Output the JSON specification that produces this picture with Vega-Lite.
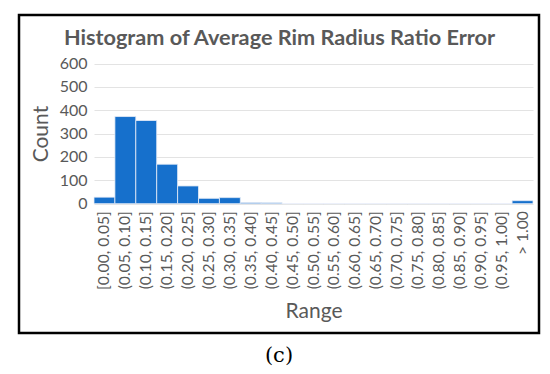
{
  "$schema": "https://vega.github.io/schema/vega-lite/v6.json",
  "padding": {"left": 17, "top": 13, "right": 5, "bottom": 5},
  "background": "white",
  "title": {"text": "(c)", "orient": "bottom", "anchor": "middle", "font": "DejaVu Serif", "fontSize": 21, "fontWeight": "normal", "color": "#000000", "offset": 11, "frame": "group"},
  "config": {
    "view": {"stroke": "#000000", "strokeWidth": 2.5},
    "font": "Lato"
  },
  "datasets": {
    "hist": [
      {"range": "[0.00, 0.05]", "count": 28},
      {"range": "(0.05, 0.10]", "count": 373},
      {"range": "(0.10, 0.15]", "count": 356},
      {"range": "(0.15, 0.20]", "count": 169},
      {"range": "(0.20, 0.25]", "count": 76},
      {"range": "(0.25, 0.30]", "count": 23},
      {"range": "(0.30, 0.35]", "count": 26},
      {"range": "(0.35, 0.40]", "count": 5},
      {"range": "(0.40, 0.45]", "count": 4},
      {"range": "(0.45, 0.50]", "count": 0},
      {"range": "(0.50, 0.55]", "count": 0},
      {"range": "(0.55, 0.60]", "count": 0},
      {"range": "(0.60, 0.65]", "count": 0},
      {"range": "(0.65, 0.70]", "count": 0},
      {"range": "(0.70, 0.75]", "count": 0},
      {"range": "(0.75, 0.80]", "count": 0},
      {"range": "(0.80, 0.85]", "count": 0},
      {"range": "(0.85, 0.90]", "count": 0},
      {"range": "(0.90, 0.95]", "count": 0},
      {"range": "(0.95, 1.00]", "count": 0},
      {"range": "> 1.00", "count": 13}
    ]
  },
  "vconcat": [
    {
      "width": 520,
      "height": 318,
      "data": {"name": "hist"},
      "resolve": {"axis": {"x": "independent"}},
      "layer": [
        {
          "mark": {"type": "bar", "color": "#1670cc", "stroke": "#e8eef8", "strokeWidth": 0.8},
          "encoding": {
            "x": {
              "field": "range", "type": "nominal", "sort": null,
              "scale": {"range": [75, 514], "paddingInner": 0, "paddingOuter": 0},
              "axis": {"orient": "bottom", "title": "Range", "offset": -129.3, "labelAngle": -90, "labelFontSize": 15.6, "labelColor": "#595959", "labelPadding": 7, "ticks": false, "domain": false, "titleFontSize": 21, "titleFontWeight": "normal", "titleColor": "#595959", "titlePadding": 11, "labelFont": "Lato", "titleFont": "Lato"}
            },
            "y": {
              "field": "count", "type": "quantitative",
              "scale": {"domain": [0, 600], "range": [188.7, 48.5], "nice": false},
              "axis": {"title": "Count", "offset": -75, "values": [0, 100, 200, 300, 400, 500, 600], "labelFontSize": 16, "labelColor": "#595959", "labelPadding": 7, "ticks": false, "domain": false, "gridColor": "#e3e3e3", "gridWidth": 1, "titleFontSize": 21, "titleFontWeight": "normal", "titleColor": "#595959", "titlePadding": 8, "labelFont": "Lato", "titleFont": "Lato"}
            }
          }
        },
        {
          "mark": {"type": "rule", "opacity": 0},
          "encoding": {
            "x": {
              "field": "range", "type": "nominal", "sort": null,
              "axis": {"orient": "top", "title": "Histogram of Average Rim Radius Ratio Error", "labels": false, "ticks": false, "domain": false, "grid": false, "titleFont": "Lato", "titleFontSize": 21.7, "titleFontWeight": "bold", "titleColor": "#595959", "titleX": 260, "titleY": 29, "titleAlign": "center", "titleAnchor": null, "titleBaseline": "alphabetic"}
            }
          }
        }
      ]
    }
  ]
}
